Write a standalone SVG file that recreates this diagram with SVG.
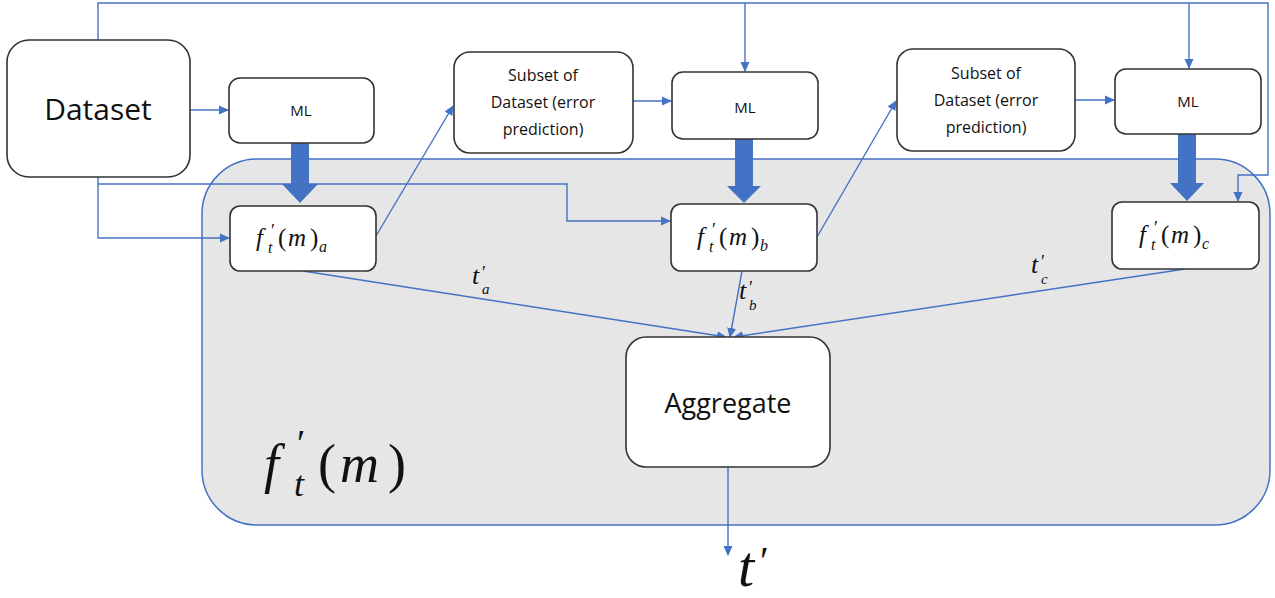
<svg xmlns="http://www.w3.org/2000/svg" width="1275" height="598" viewBox="0 0 1275 598">
<style>
.box{fill:#fff;stroke:#333;stroke-width:1.6}
.ln{fill:none;stroke:#4472C4;stroke-width:1.4}
.blk{fill:#4472C4}
.sans{font-family:"Open Sans","Liberation Sans",sans-serif;fill:#111}
.m{font-family:"Liberation Serif","Times New Roman",serif;font-style:italic;fill:#111}
.r{font-style:normal}
</style>
<defs>
<marker id="ar" markerWidth="10" markerHeight="10" refX="9" refY="5" orient="auto" markerUnits="userSpaceOnUse">
<path d="M0,0.5 L10,5 L0,9.5 z" fill="#4472C4"/>
</marker>
</defs>
<rect width="1275" height="598" fill="#fff"/>
<g id="container">
<rect x="202" y="159" width="1068" height="366" rx="55" ry="55" fill="#e6e6e6" stroke="#4472C4" stroke-width="1.5"/>
<text class="m" font-size="54" x="264" y="482">f<tspan class="r" x="297" y="456" font-size="38">′</tspan><tspan x="294" y="496" font-size="36">t</tspan><tspan class="r" x="318" y="482">(</tspan><tspan x="340" y="482">m</tspan><tspan class="r" x="388" y="482">)</tspan></text>
</g>
<g id="connectors">
<path class="ln" d="M98,40 V3 H1268 V175 H1238 V201" marker-end="url(#ar)"/>
<path class="ln" d="M745,3 V71" marker-end="url(#ar)"/>
<path class="ln" d="M1189,3 V68" marker-end="url(#ar)"/>
<path class="ln" d="M190,110 H228" marker-end="url(#ar)"/>
<path class="ln" d="M98,177 V238 H229" marker-end="url(#ar)"/>
<path class="ln" d="M98,184 H567 V221 H670" marker-end="url(#ar)"/>
<path class="ln" d="M376,236 L453,106" marker-end="url(#ar)"/>
<path class="ln" d="M633,101 H671" marker-end="url(#ar)"/>
<path class="ln" d="M817,237 L896,101" marker-end="url(#ar)"/>
<path class="ln" d="M1075,100 H1114" marker-end="url(#ar)"/>
<path class="ln" d="M303,271 L726,337" marker-end="url(#ar)"/>
<path class="ln" d="M742,271 L730,337" marker-end="url(#ar)"/>
<path class="ln" d="M1185,269 L734,337" marker-end="url(#ar)"/>
<path class="ln" d="M728,467 V555" marker-end="url(#ar)"/>
<path class="blk" d="M291,143 H309 V184 H318 L300,203 L282,184 H291 Z"/>
<path class="blk" d="M735,139 H753 V186 H761 L744,203 L727,186 H735 Z"/>
<path class="blk" d="M1178,134 H1196 V183 H1204 L1187,201 L1170,183 H1178 Z"/>
<text class="m" font-size="26" x="472" y="284">t<tspan class="r" x="482" y="279" font-size="18">′</tspan><tspan x="482" y="294" font-size="15">a</tspan></text>
<text class="m" font-size="26" x="739" y="299">t<tspan class="r" x="749" y="294" font-size="18">′</tspan><tspan x="749" y="310" font-size="15">b</tspan></text>
<text class="m" font-size="26" x="1031" y="273">t<tspan class="r" x="1041" y="268" font-size="18">′</tspan><tspan x="1041" y="284" font-size="15">c</tspan></text>
<text class="m" font-size="58" x="738" y="586">t<tspan class="r" x="760" y="574" font-size="40">′</tspan></text>
</g>
<g id="dataset">
<rect class="box" x="7" y="40" width="183" height="137" rx="22"/>
<text class="sans" x="98" y="120" font-size="30" text-anchor="middle">Dataset</text>
</g>
<g id="ml1">
<rect class="box" x="229" y="78" width="145" height="65" rx="11"/>
<text class="sans" x="301" y="116" font-size="15" text-anchor="middle">ML</text>
</g>
<g id="subset1">
<rect class="box" x="454" y="52" width="179" height="101" rx="16"/>
<text class="sans" x="543" y="81" font-size="16" text-anchor="middle">Subset of</text>
<text class="sans" x="543" y="108" font-size="16" text-anchor="middle">Dataset (error</text>
<text class="sans" x="543" y="135" font-size="16" text-anchor="middle">prediction)</text>
</g>
<g id="ml2">
<rect class="box" x="672" y="72" width="146" height="67" rx="11"/>
<text class="sans" x="745" y="113" font-size="15" text-anchor="middle">ML</text>
</g>
<g id="subset2">
<rect class="box" x="897" y="49" width="178" height="102" rx="16"/>
<text class="sans" x="986" y="79" font-size="16" text-anchor="middle">Subset of</text>
<text class="sans" x="986" y="106" font-size="16" text-anchor="middle">Dataset (error</text>
<text class="sans" x="986" y="133" font-size="16" text-anchor="middle">prediction)</text>
</g>
<g id="ml3">
<rect class="box" x="1115" y="69" width="146" height="65" rx="11"/>
<text class="sans" x="1188" y="107" font-size="15" text-anchor="middle">ML</text>
</g>
<g id="fa">
<rect class="box" x="230" y="206" width="146" height="65" rx="10"/>
<text class="m" font-size="25" x="256" y="246">f<tspan class="r" x="271" y="237" font-size="18">′</tspan><tspan x="268" y="253" font-size="16">t</tspan><tspan class="r" x="278" y="246">(</tspan><tspan x="288" y="246">m</tspan><tspan class="r" x="310" y="246">)</tspan><tspan x="319" y="252" font-size="16">a</tspan></text>
</g>
<g id="fb">
<rect class="box" x="671" y="204" width="146" height="67" rx="10"/>
<text class="m" font-size="25" x="697" y="245">f<tspan class="r" x="712" y="236" font-size="18">′</tspan><tspan x="709" y="252" font-size="16">t</tspan><tspan class="r" x="719" y="245">(</tspan><tspan x="729" y="245">m</tspan><tspan class="r" x="751" y="245">)</tspan><tspan x="760" y="251" font-size="16">b</tspan></text>
</g>
<g id="fc">
<rect class="box" x="1112" y="202" width="147" height="67" rx="10"/>
<text class="m" font-size="25" x="1139" y="243">f<tspan class="r" x="1154" y="234" font-size="18">′</tspan><tspan x="1151" y="250" font-size="16">t</tspan><tspan class="r" x="1161" y="243">(</tspan><tspan x="1171" y="243">m</tspan><tspan class="r" x="1193" y="243">)</tspan><tspan x="1202" y="249" font-size="16">c</tspan></text>
</g>
<g id="aggregate">
<rect class="box" x="626" y="337" width="204" height="130" rx="20"/>
<text class="sans" x="728" y="413" font-size="27" text-anchor="middle">Aggregate</text>
</g>
</svg>
